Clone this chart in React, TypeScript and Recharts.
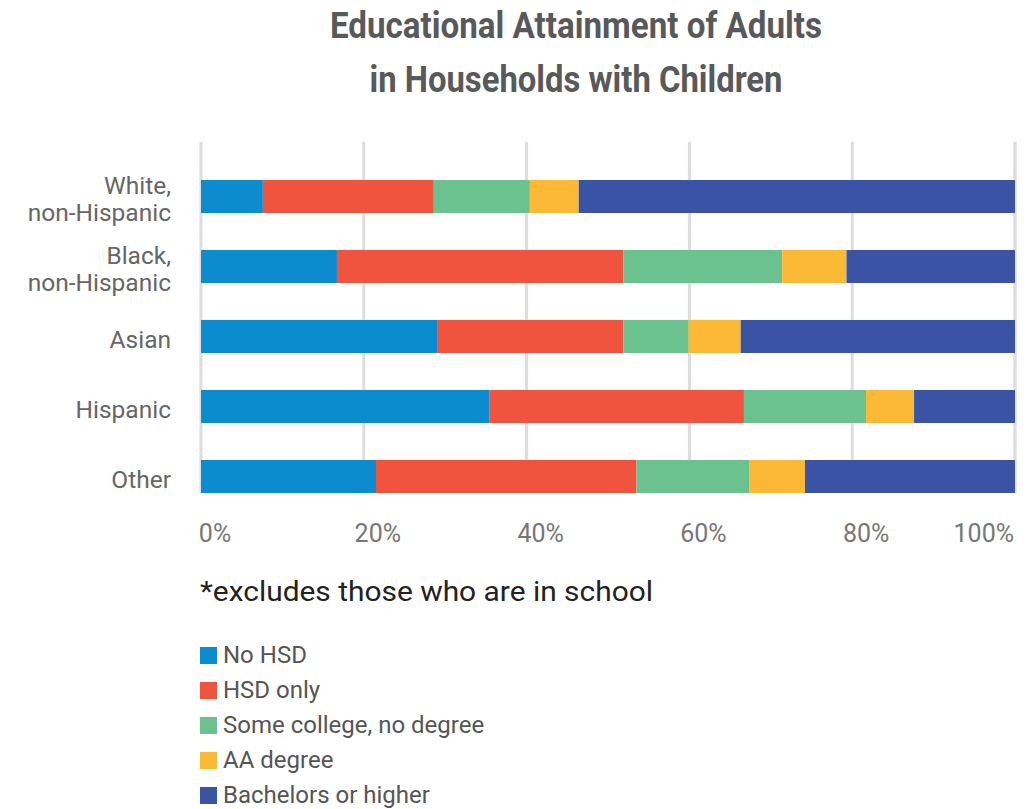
import React from 'react';
import { BarChart, Bar, XAxis, YAxis, CartesianGrid, Legend } from 'recharts';

// categories and shares (percent of adults)
const categories = ['White,\nnon-Hispanic', 'Black,\nnon-Hispanic', 'Asian', 'Hispanic', 'Other'];
const noHsd = [7.6, 16.7, 29.0, 35.4, 21.5];
const hsdOnly = [21.0, 35.2, 22.9, 31.3, 32.0];
const someCollege = [11.8, 19.5, 8.0, 15.0, 13.9];
const aaDegree = [6.0, 7.9, 6.4, 5.9, 6.8];
const bachelors = [53.6, 20.7, 33.7, 12.4, 25.8];
const xTicks = [0, 20, 40, 60, 80, 100];

const series = [
  { key: 'noHsd', name: 'No HSD', color: '#0a8ccf' },
  { key: 'hsdOnly', name: 'HSD only', color: '#f0533e' },
  { key: 'someCollege', name: 'Some college, no degree', color: '#6cc28e' },
  { key: 'aaDegree', name: 'AA degree', color: '#fbb936' },
  { key: 'bachelors', name: 'Bachelors or higher', color: '#3b53a4' },
];

const data = categories.map((name, i) => ({
  name,
  noHsd: noHsd[i],
  hsdOnly: hsdOnly[i],
  someCollege: someCollege[i],
  aaDegree: aaDegree[i],
  bachelors: bachelors[i],
}));

const FONT = 'Roboto, "Noto Sans", sans-serif';

const YTick = (props: any) => {
  const { x, y, payload } = props;
  const lines = String(payload.value).split('\n');
  const first = 11.5 - (lines.length - 1) * 13.5;
  return (
    <text x={x} y={y} textAnchor="end" fill="#666" fontSize={24.5} fontFamily={FONT}>
      {lines.map((l, i) => (
        <tspan key={i} x={x} dy={i === 0 ? first : 27}>
          {l}
        </tspan>
      ))}
    </text>
  );
};

const XTick = (props: any) => {
  const { x, y, payload, index } = props;
  const last = index === xTicks.length - 1;
  return (
    <text
      x={last ? x - 1 : x + 14}
      y={y + 41}
      textAnchor={last ? 'end' : 'middle'}
      fill="#777"
      fontSize={25}
      fontFamily={FONT}
    >
      {payload.value}%
    </text>
  );
};

const renderLegend = () => (
  <div style={{ fontFamily: FONT }}>
    {series.map((s) => (
      <div key={s.key} style={{ display: 'flex', alignItems: 'center', height: 35 }}>
        <span style={{ width: 17, height: 17, background: s.color, marginRight: 6, display: 'inline-block' }} />
        <span style={{ fontSize: 24, color: '#555', lineHeight: '35px' }}>{s.name}</span>
      </div>
    ))}
  </div>
);

const App: React.FC = () => {
  return (
    <div style={{ position: 'absolute', left: 0, top: 0, width: 1033, height: 809, background: '#fff' }}>
      <BarChart
        width={1033}
        height={809}
        data={data}
        layout="vertical"
        margin={{ top: 142, right: 18, left: 0, bottom: 256 }}
      >
        <CartesianGrid horizontal={false} stroke="#dddddd" strokeWidth={3} />
        <XAxis
          type="number"
          domain={[0, 100]}
          ticks={xTicks}
          height={60}
          axisLine={false}
          tickLine={false}
          tick={<XTick />}
        />
        <YAxis
          type="category"
          dataKey="name"
          width={201}
          axisLine={false}
          tickLine={false}
          tickMargin={24}
          padding={{ top: 19, bottom: -18 }}
          tick={<YTick />}
          interval={0}
        />
        <Legend
          layout="vertical"
          align="center"
          verticalAlign="middle"
          content={renderLegend}
          wrapperStyle={{ left: 200, top: 638, width: 400, height: 175 }}
        />
        {series.map((s) => (
          <Bar
            key={s.key}
            dataKey={s.key}
            name={s.name}
            stackId="a"
            fill={s.color}
            barSize={33}
            isAnimationActive={false}
          />
        ))}
      </BarChart>
      <svg
        width={1033}
        height={809}
        style={{ position: 'absolute', left: 0, top: 0, pointerEvents: 'none' }}
      >
        <text
          x={576}
          y={38}
          textAnchor="middle"
          fontFamily={FONT}
          fontWeight={700}
          fontSize={37}
          fill="#58595b"
          textLength={492}
          lengthAdjust="spacingAndGlyphs"
        >
          Educational Attainment of Adults
        </text>
        <text
          x={576}
          y={92}
          textAnchor="middle"
          fontFamily={FONT}
          fontWeight={700}
          fontSize={37}
          fill="#58595b"
          textLength={413}
          lengthAdjust="spacingAndGlyphs"
        >
          in Households with Children
        </text>
        <text
          x={200}
          y={601}
          fontFamily={FONT}
          fontSize={28}
          fill="#222"
          textLength={453}
          lengthAdjust="spacingAndGlyphs"
        >
          *excludes those who are in school
        </text>
      </svg>
    </div>
  );
};

export default App;
